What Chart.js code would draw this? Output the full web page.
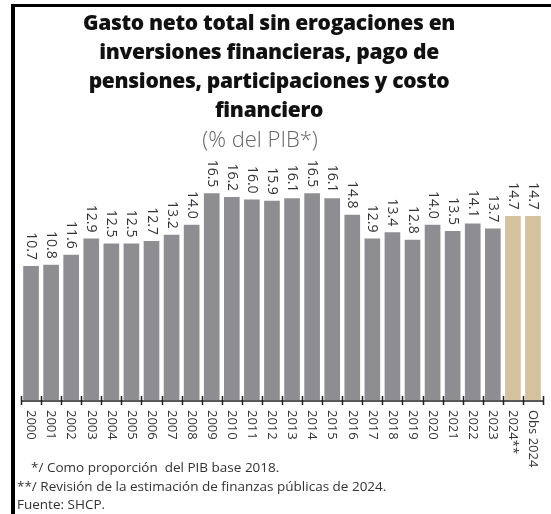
<!DOCTYPE html>
<html>
<head>
<meta charset="utf-8">
<script src="https://cdn.jsdelivr.net/npm/chart.js@4.4.1/dist/chart.umd.min.js"></script>
<style>
  html, body { margin: 0; padding: 0; background: #fff; }
  canvas { display: block; }
</style>
</head>
<body>
<canvas id="chart" width="551" height="514"></canvas>
<script>
// data
const years = ['2000', '2001', '2002', '2003', '2004', '2005', '2006', '2007', '2008', '2009',
  '2010', '2011', '2012', '2013', '2014', '2015', '2016', '2017', '2018', '2019',
  '2020', '2021', '2022', '2023', '2024**', 'Obs 2024'];
const gasto = [10.7, 10.8, 11.6, 12.9, 12.5, 12.5, 12.7, 13.2, 14.0, 16.5,
  16.2, 16.0, 15.9, 16.1, 16.5, 16.1, 14.8, 12.9, 13.4, 12.8,
  14.0, 13.5, 14.1, 13.7, 14.7, 14.7];
const estimados = ['2024**', 'Obs 2024'];

const titleLines = [
  'Gasto neto total sin erogaciones en',
  'inversiones financieras, pago de',
  'pensiones, participaciones y costo',
  'financiero'
];
const subtitle = '(% del PIB*)';
const notes = [
  '*/ Como proporción  del PIB base 2018.',
  '**/ Revisión de la estimación de finanzas públicas de 2024.',
  'Fuente: SHCP.'
];

const GREY = '#8e8d92';
const TAN = '#d4c19d';
const TEXT = '#333333';

// everything that Chart.js has no built-in option for: frame, title, rotated labels, ticks
const decorations = {
  id: 'decorations',
  beforeDraw(chart) {
    const ctx = chart.ctx;
    ctx.save();
    ctx.fillStyle = '#fff';
    ctx.fillRect(0, 0, chart.width, chart.height);
    // black frame on left and top
    ctx.fillStyle = '#000';
    ctx.fillRect(11, 4, 4, chart.height - 4);
    ctx.fillRect(11, 4, chart.width - 11, 3);
    ctx.restore();
  },
  afterDraw(chart) {
    const ctx = chart.ctx;
    const x = chart.scales.x;
    const area = chart.chartArea;
    ctx.save();

    // title
    ctx.fillStyle = '#111';
    ctx.textAlign = 'center';
    ctx.textBaseline = 'middle';
    ctx.font = '800 21px "Open Sans"';
    ctx.letterSpacing = '-0.3px';
    titleLines.forEach((line, i) => ctx.fillText(line, 269, 24 + i * 29));
    ctx.letterSpacing = '0px';
    ctx.font = '300 22px "Open Sans"';
    ctx.fillStyle = '#666';
    ctx.fillText(subtitle, 260, 141);

    // axis line + tick marks crossing it
    ctx.strokeStyle = '#222';
    ctx.lineWidth = 1.5;
    ctx.beginPath();
    ctx.moveTo(area.left, area.bottom + 1);
    ctx.lineTo(area.right, area.bottom + 1);
    const step = (area.right - area.left) / years.length;
    for (let i = 0; i <= years.length; i++) {
      const px = Math.round(area.left + i * step) + 0.5;
      ctx.moveTo(px, area.bottom - 4);
      ctx.lineTo(px, area.bottom + 5);
    }
    ctx.stroke();

    // year labels, rotated clockwise
    ctx.fillStyle = TEXT;
    ctx.font = '13px "Open Sans"';
    ctx.textAlign = 'left';
    ctx.textBaseline = 'middle';
    years.forEach((label, i) => {
      ctx.save();
      ctx.translate(x.getPixelForValue(i), area.bottom + 10);
      ctx.rotate(Math.PI / 2);
      ctx.fillText(label, 0, 0);
      ctx.restore();
    });

    // value labels above bars
    const meta = chart.getDatasetMeta(0);
    ctx.font = '14px "Open Sans"';
    ctx.textAlign = 'right';
    meta.data.forEach((bar, i) => {
      ctx.save();
      ctx.translate(bar.x, bar.y - 6);
      ctx.rotate(Math.PI / 2);
      ctx.fillText(gasto[i].toFixed(1), 0, 0);
      ctx.restore();
    });

    // footnotes
    ctx.font = '13.5px "Open Sans"';
    ctx.textAlign = 'left';
    ctx.fillText(notes[0], 31, 468);
    ctx.fillText(notes[1], 17, 487);
    ctx.fillText(notes[2], 17, 505);
    ctx.restore();
  }
};

function draw() {
  const ctx = document.getElementById('chart').getContext('2d');
  new Chart(ctx, {
    type: 'bar',
    data: {
      labels: years,
      datasets: [{
        label: 'Gasto neto',
        data: gasto,
        backgroundColor: (c) => estimados.includes(years[c.dataIndex]) ? TAN : GREY,
        borderWidth: 0,
        categoryPercentage: 0.78,
        barPercentage: 1
      }]
    },
    options: {
      responsive: false,
      devicePixelRatio: 1,
      animation: false,
      layout: { padding: { top: 152, left: 21, right: 8, bottom: 114 } },
      plugins: {
        legend: { display: false },
        tooltip: { enabled: false }
      },
      scales: {
        x: {
          display: true,
          grid: { display: false, drawTicks: false },
          border: { display: false },
          ticks: { display: false }
        },
        y: {
          display: false,
          min: 0,
          max: 19.8
        }
      }
    },
    plugins: [decorations]
  });
}

// make sure the installed font is ready before the canvas uses it
Promise.all([
  document.fonts.load('800 21px "Open Sans"'),
  document.fonts.load('300 22px "Open Sans"'),
  document.fonts.load('13px "Open Sans"')
]).then(draw, draw);
</script>
</body>
</html>
